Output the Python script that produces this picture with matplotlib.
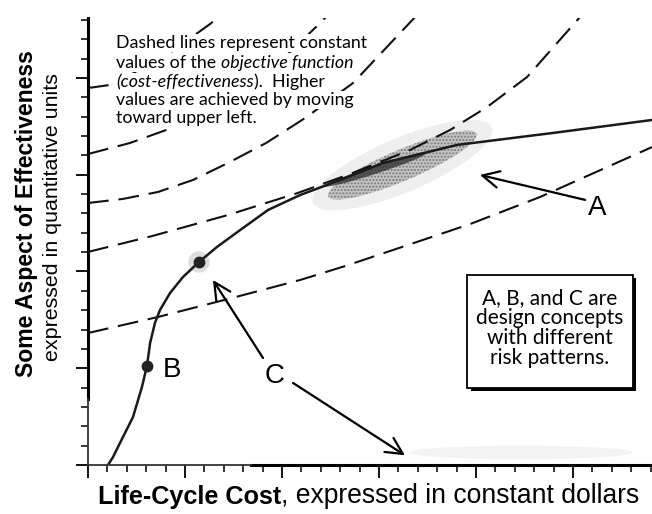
import numpy as np
import matplotlib
matplotlib.use('Agg')
import matplotlib.pyplot as plt
from matplotlib.patches import Ellipse, Rectangle, Circle

plt.rcParams['font.family'] = ['Liberation Sans', 'DejaVu Sans']

# all values in "tick units": one minor tick on either axis = 1
# frontier of achievable designs (cost, effectiveness)
front_cost = [1.03, 1.29, 1.65, 2.32, 2.78, 3.04, 3.20, 3.45, 3.71, 4.23, 4.90, 5.72,
              6.65, 7.84, 9.28, 10.93, 12.99, 15.21, 19.02, 23.97, 29.07]
front_eff = [0.00, 0.41, 1.14, 2.48, 4.03, 5.12, 6.30, 7.34, 8.01, 8.89, 9.72, 10.49,
             11.27, 12.14, 13.18, 13.95, 14.73, 15.61, 16.54, 17.16, 17.83]

# dashed lines of constant objective function (lowest to highest)
iso_cost = [
    [0.0, 3.61, 7.42, 10.93, 13.25, 15.72, 19.69, 23.30, 29.07],
    [0.0, 3.30, 7.22, 10.82, 13.51, 16.60, 18.66, 20.57, 22.63, 25.36],
    [0.0, 1.80, 3.61, 5.41, 7.22, 9.18, 11.19, 13.66, 16.86],
    [0.0, 2.16, 4.33, 6.34, 8.35, 10.15, 11.86, 12.47],
    [0.0, 1.13, 3.71, 6.29, 6.80],
]
iso_eff = [
    [6.82, 7.65, 8.63, 9.56, 10.28, 11.11, 12.45, 13.85, 16.43],
    [11.01, 11.83, 12.92, 14.06, 15.04, 16.28, 17.31, 18.50, 20.05, 23.15],
    [13.54, 13.75, 14.11, 14.73, 15.61, 16.64, 17.93, 19.74, 23.15],
    [16.07, 16.64, 17.42, 18.45, 19.64, 21.09, 22.74, 23.36],
    [19.48, 19.64, 20.93, 22.79, 23.20],
]

# design concepts B and C (points), A (risk region)
pt_names = ['B', 'C']
pt_cost = [3.04, 5.72]
pt_eff = [5.12, 10.49]
a_cost, a_eff = 16.2, 15.5

xmax, ymax = 29.07, 23.1

fig = plt.figure(figsize=(6.52, 5.14), dpi=100)
ax = fig.add_axes([88/652, 49/514, 564/652, 447/514])
ax.set_xlim(0, xmax)
ax.set_ylim(0, ymax)

# risk region around A
ax.add_patch(Ellipse((a_cost, a_eff), 10.0, 2.8, angle=23, fc='#eeeeee', ec='none', zorder=1))
ax.add_patch(Ellipse((a_cost, a_eff), 8.3, 1.6, angle=23, fc='#c4c4c4', ec='#7a7a7a',
                     hatch='.....', lw=0, zorder=1))
ax.add_patch(Ellipse((14.8, 15.25), 5.5, 0.4, angle=18, fc='#222222',
                     ec='none', alpha=0.7, zorder=1))
# faint smudge along the cost axis
ax.add_patch(Ellipse((22.3, 0.65), 11.5, 0.7, fc='#f3f3f3', ec='none', zorder=1))
# halo around C
ax.add_patch(Circle((pt_cost[1], pt_eff[1]), 0.55, fc='#dddddd', ec='none', zorder=1))

for xs, ys in zip(iso_cost, iso_eff):
    ax.plot(xs, ys, color='#111111', lw=1.5, dashes=[10, 4.7], zorder=2)

ax.plot(front_cost, front_eff, color='#1a1a1a', lw=1.8, zorder=3, solid_capstyle='round')
ax.plot(pt_cost, pt_eff, 'o', color='#222222', ms=7.5, zorder=4)

# labels and arrows
lab = dict(fontsize=20, ha='center', va='center', zorder=6)
ax.text(26.24, 13.28, 'A', **lab)
ax.text(4.33, 4.91, 'B', **lab)
ax.text(9.64, 4.60, 'C', **lab)
arr = dict(arrowstyle='->,head_length=0.6,head_width=0.3', lw=1.6, color='black',
           mutation_scale=20, shrinkA=0, shrinkB=0)
ax.annotate('', xy=(20.2, 14.99), xytext=(25.62, 13.70), arrowprops=arr)
ax.annotate('', xy=(6.44, 9.56), xytext=(9.02, 5.53), arrowprops=arr)
ax.annotate('', xy=(16.34, 0.50), xytext=(10.57, 4.24), arrowprops=arr)

# explanatory note with mixed italic text: (text, style, gap before in points)
note_font = 'Lato'
note_fs = 12.8
note_lines = [
    [("Dashed lines represent constant", 'normal', 0)],
    [("values of the", 'normal', 0), ("objective function", 'italic', 3.6)],
    [("(cost-effectiveness", 'italic', 0), (").  Higher", 'normal', 0.4)],
    [("values are achieved by moving", 'normal', 0)],
    [("toward upper left.", 'normal', 0)],
]
note_y = [21.81, 20.78, 19.79, 18.86, 17.93]
white = dict(facecolor='white', edgecolor='none', pad=1.0)
for pieces, y in zip(note_lines, note_y):
    s, st, g = pieces[0]
    t = ax.text(1.45, y, s, fontstyle=st, family=note_font, fontsize=note_fs,
                va='center', ha='left', bbox=white, zorder=5)
    for s, st, g in pieces[1:]:
        t = ax.annotate(s, xy=(1, 0), xycoords=t, xytext=(g, 0), textcoords='offset points',
                        fontstyle=st, family=note_font, fontsize=note_fs,
                        va='bottom', ha='left', bbox=white, zorder=5)

# boxed legend note with drop shadow
bx0, bx1, by0, by1 = 19.54, 28.09, 3.98, 9.82
ax.add_patch(Rectangle((bx0 + 0.18, by0 - 0.18), bx1 - bx0, by1 - by0, fc='black', ec='none', zorder=5))
ax.add_patch(Rectangle((bx0, by0), bx1 - bx0, by1 - by0, fc='white', ec='black', lw=1.3, zorder=5))
ax.text((bx0 + bx1) / 2, 7.08, "A, B, and C are\ndesign concepts\nwith different\nrisk patterns.",
        family=note_font, fontsize=15, ha='center', va='center', linespacing=1.0, zorder=6)

# axes styling
for s in ['top', 'right']:
    ax.spines[s].set_visible(False)
ax.spines['left'].set_linewidth(2.2)
ax.spines['bottom'].set_linewidth(2.2)
ax.spines['left'].set_bounds(3.4, ymax)
ax.spines['bottom'].set_bounds(8.4, xmax)
ax.plot([0, 0], [0, 3.4], color='#333333', lw=1.3, clip_on=False, zorder=3)
ax.plot([0, 8.4], [0, 0], color='#333333', lw=1.3, clip_on=False, zorder=3)

ax.set_xticks(np.arange(0, 30, 5))
ax.set_xticks(np.arange(0, 30, 1), minor=True)
ax.set_yticks(np.arange(0, 24, 5))
ax.set_yticks(np.arange(0, 24, 1), minor=True)
ax.tick_params(which='major', length=9, width=1.4, direction='out', color='#111111')
ax.tick_params(which='minor', length=5, width=1.2, direction='out', color='#111111')
ax.tick_params(labelbottom=False, labelleft=False)

# axis titles
fig.text(0.040, 0.584, 'Some Aspect of Effectiveness', rotation=90, fontsize=16.6,
         fontweight='bold', ha='center', va='center')
fig.text(0.080, 0.578, 'expressed in quantitative units', rotation=90, fontsize=15.4,
         ha='center', va='center')
t = fig.text(0.150, 0.033, 'Life-Cycle Cost', fontsize=18.2, fontweight='bold',
             ha='left', va='center')
ax.annotate(', expressed in constant dollars', xy=(1, 0), xycoords=t, fontsize=19.1,
            ha='left', va='bottom', annotation_clip=False)

plt.savefig('out.png', dpi=100)
